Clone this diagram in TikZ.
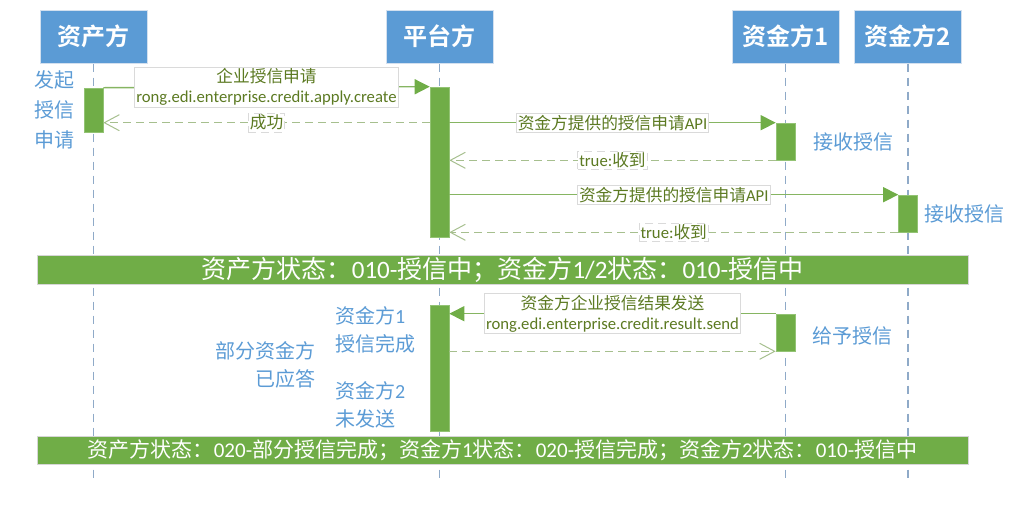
\documentclass[tikz,border=0pt]{standalone}
\usepackage{fontspec}
\usetikzlibrary{arrows.meta}
\setmainfont{Carlito}
\newfontfamily\cjk{Noto Sans CJK SC}
\newfontfamily\cjkbold{Noto Sans CJK SC Bold}
\newcommand\zh[1]{{\cjk #1}}
\newcommand\zhb[1]{{\cjkbold #1}}

\definecolor{hdrblue}{HTML}{5B9BD5}
\definecolor{hdrline}{HTML}{D3E0EF}
\definecolor{lifec}{HTML}{8FAAC8}
\definecolor{barg}{HTML}{70AD47}
\definecolor{barline}{HTML}{93C374}
\definecolor{msgc}{HTML}{86B562}
\definecolor{retc}{HTML}{A6BF8E}
\definecolor{lblline}{HTML}{DADADA}
\definecolor{lbltext}{HTML}{5C7A22}
\definecolor{notec}{HTML}{5B9BD5}
\definecolor{bandline}{HTML}{D6D6D6}

\begin{document}
\begin{tikzpicture}[x=1pt,y=-1pt,
  hdr/.style={rectangle, fill=hdrblue, draw=hdrline, line width=1pt,
    minimum width=107pt, minimum height=53pt, inner sep=0pt, text=white,
    font=\fontsize{24}{28}\selectfont},
  life/.style={draw=lifec, line width=1.3pt, dash pattern=on 8pt off 6pt},
  bar/.style={rectangle, fill=barg, draw=barline, line width=0.6pt,
    minimum width=19pt, inner sep=0pt},
  msg/.style={draw=msgc, line width=1.4pt,
    -{Triangle[length=15pt,width=15pt,color=barg,fill=barg]}},
  ret/.style={draw=retc, line width=1.4pt, dash pattern=on 8pt off 5pt,
    -{Straight Barb[length=15pt,width=16pt,line width=1pt]}},
  lbl/.style={rectangle, fill=white, draw=lblline, line width=0.8pt,
    inner xsep=1.5pt, inner ysep=1.5pt, text=lbltext, align=center,
    font=\fontsize{16.7}{20}\selectfont},
  note/.style={text=notec, inner sep=0pt, font=\fontsize{20}{28}\selectfont},
  band/.style={rectangle, fill=barg, draw=bandline, line width=1pt,
    minimum width=931pt, inner sep=0pt, text=white}
]
\useasboundingbox (0,0) rectangle (1024,520);

% participants
\node[hdr] (hA) at (93.5,36.5) {\zhb{资产方}};
\node[hdr] (hP) at (439.5,36.5) {\zhb{平台方}};
\node[hdr] (hF) at (785.5,36.5) {\zhb{资金方1}};
\node[hdr] (hG) at (908,36.5) {\zhb{资金方2}};

% lifelines
\coordinate (eA) at (93.5,481);
\coordinate (eP) at (439.5,481);
\coordinate (eF) at (785.5,481);
\coordinate (eG) at (908,481);
\draw[life] (hA.south) -- (eA);
\draw[life] (hP.south) -- (eP);
\draw[life] (hF.south) -- (eF);
\draw[life] (hG.south) -- (eG);

% activation bars
\node[bar, minimum height=44pt]  (ab1) at (93.5,110) {};
\node[bar, minimum height=150pt] (pb1) at (439.5,162) {};
\node[bar, minimum height=37pt]  (fb1) at (785.5,141.5) {};
\node[bar, minimum height=37pt]  (gb1) at (908,213.5) {};
\node[bar, minimum height=126pt] (pb2) at (439.5,368) {};
\node[bar, minimum height=37pt]  (fb2) at (785.5,332.5) {};

% messages
\draw[msg] (ab1.north east) -- node[lbl]{\zh{企业授信申请}\\rong.edi.enterprise.credit.apply.create} (pb1.north west);
\draw[ret] (pb1.west |- fb1.north) -- node[lbl]{\zh{成功}} (ab1.east |- fb1.north);
\draw[msg] (pb1.east |- fb1.north) -- node[lbl]{\zh{资金方提供的授信申请}API} (fb1.north west);
\draw[ret] (fb1.south west) -- node[lbl]{true:\zh{收到}} (pb1.east |- fb1.south);
\draw[msg] (pb1.east |- gb1.north) -- node[lbl]{\zh{资金方提供的授信申请}API} (gb1.north west);
\draw[ret] (gb1.south west) -- node[lbl]{true:\zh{收到}} (pb1.east |- gb1.south);
\draw[msg] (fb2.north west) -- node[lbl]{\zh{资金方企业授信结果发送}\\rong.edi.enterprise.credit.result.send} (pb2.east |- fb2.north);
\draw[ret] (pb2.east |- fb2.south) -- (fb2.south west);

% status bands
\node[band, minimum height=29pt, font=\fontsize{25}{30}\selectfont] (s1) at (502.5,269.5)
  {\zh{资产方状态：}010-\zh{授信中；资金方}1/2\zh{状态：}010-\zh{授信中}};
\node[band, minimum height=28pt, font=\fontsize{21}{25}\selectfont] (s2) at (502.5,450)
  {\zh{资产方状态：}020-\zh{部分授信完成；资金方}1\zh{状态：}020-\zh{授信完成；资金方}2\zh{状态：}010-\zh{授信中}};

% annotations
\node[note, align=center, font=\fontsize{20}{30}\selectfont] (n1) at (54,110) {\zh{发起}\\\zh{授信}\\\zh{申请}};
\node[note] (n2) at (853.5,142) {\zh{接收授信}};
\node[note] (n3) at (964,214) {\zh{接收授信}};
\node[note] (n4) at (852,336) {\zh{给予授信}};
\node[note, align=left, anchor=west] (n5) at (335,329.5) {\zh{资金方}1\\\zh{授信完成}};
\node[note, align=left, anchor=west] (n6) at (335,405) {\zh{资金方}2\\\zh{未发送}};
\node[note, align=right, anchor=east] (n7) at (316,364.5) {\zh{部分资金方}\\\zh{已应答}};
\end{tikzpicture}
\end{document}
